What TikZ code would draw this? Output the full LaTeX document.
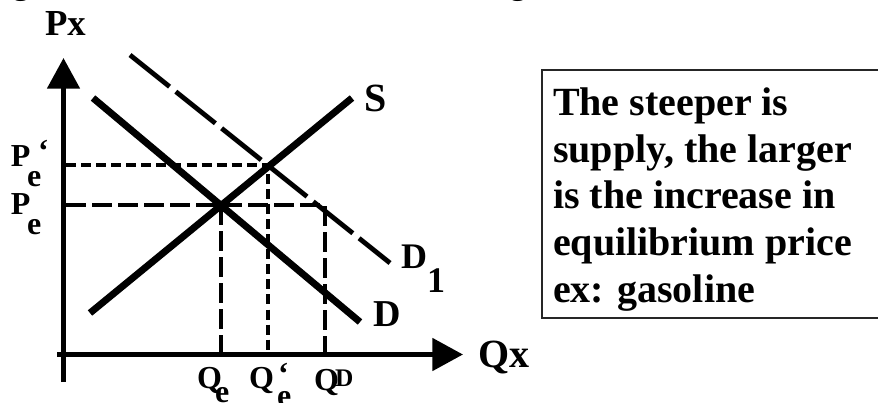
\documentclass[tikz,border=0pt]{standalone}
\usepackage{fontspec}
\setmainfont{Liberation Serif}
\usetikzlibrary{arrows.meta}
\newcommand\myfs[1]{\fontsize{#1}{#1}\selectfont\bfseries}
\begin{document}
\begin{tikzpicture}[x=0.75pt,y=-0.75pt,
  lbl/.style={anchor=base west,inner sep=0pt,outer sep=0pt},
  axisline/.style={line width=3.75pt,-{Triangle[length=23pt,width=24pt]}},
  curveline/.style={line width=5.2pt},
  shiftline/.style={line width=3.6pt,dash pattern=on 38pt off 6pt},
  longdash/.style={line width=3pt,dash pattern=on 15pt off 4.5pt},
  shortdash/.style={line width=2.4pt,dash pattern=on 7.5pt off 3.8pt},
  boxline/.style={line width=1.1pt,draw=black!85}]
\useasboundingbox (0,0) rectangle (878,403);
\begin{scope}
\clip (0,0) rectangle (878,403);
% cut-off glyphs at the top
\node[lbl] (g1) at (13,-5) {\myfs{24}g};
\node[lbl] (g2) at (510,-5) {\myfs{24}g};
% text box
\coordinate (b1) at (542,318);
\coordinate (b2) at (542,70);
\coordinate (b3) at (890,70);
\coordinate (b4) at (890,318);
\draw[boxline] (b1) -- (b2) -- (b3) -- (b4) -- cycle;
\end{scope}
% coordinates
\coordinate (O) at (63.5,354.5);
\coordinate (ytop) at (63.5,58);
\coordinate (ybot) at (63.5,382);
\coordinate (xleft) at (57,354.5);
\coordinate (xright) at (463,354.5);
\coordinate (S0) at (90,313);
\coordinate (S1) at (352,98);
\coordinate (D0) at (93,98);
\coordinate (D1a) at (360,322);
\coordinate (N0) at (130,55);
\coordinate (N1) at (390,263);
\coordinate (E) at (221,205);
\coordinate (E1) at (268,165);
\coordinate (PeA) at (66,205);
\coordinate (PeB) at (325,205);
\coordinate (QD) at (325,352);
\coordinate (Qe) at (221,352);
\coordinate (Pe1A) at (66,165);
\coordinate (Qe1) at (268,352);
% guide lines
\draw[longdash] (PeA) -- (PeB) -- (QD);
\draw[longdash,line width=2.6pt] (E) -- (Qe);
\draw[shortdash] (Pe1A) -- (E1) -- (Qe1);
% curves
\draw[shiftline] (N0) -- (N1);
\draw[curveline] (S0) -- (S1);
\draw[curveline] (D0) -- (D1a);
% axes
\draw[line width=3.75pt] (ybot) -- (O);
\draw[axisline] (O) -- (ytop);
\draw[axisline] (xleft) -- (xright);
% axis labels
\node[lbl] (px) at (45,36) {\myfs{27.5}Px};
\node[lbl] (qx) at (478,367) {\myfs{30}Qx};
\node[lbl] (sl) at (364,112) {\myfs{30}S};
\node[lbl] (d1l) at (401,268) {\myfs{27}D};
\node[lbl] (d1s) at (427,292) {\myfs{27}1};
\node[lbl] (dl) at (373,326) {\myfs{28.5}D};
% price labels
\node[lbl] (pe1P) at (11,166) {\myfs{24}P};
\node[lbl] (pe1q) at (38,161) {\myfs{24}‘};
\node[lbl] (pe1e) at (27,186) {\myfs{24}e};
\node[lbl] (peP) at (11,214) {\myfs{24}P};
\node[lbl] (pee) at (27,234) {\myfs{24}e};
% quantity labels
\node[lbl] (qeQ) at (197,388) {\myfs{24}Q};
\node[lbl] (qee) at (215,402) {\myfs{24}e};
\node[lbl] (qe1Q) at (249,388) {\myfs{24}Q};
\node[lbl] (qe1q) at (278,384) {\myfs{24}‘};
\node[lbl] (qe1e) at (277,406) {\myfs{24}e};
\node[lbl] (qdQ) at (314,390) {\myfs{24}Q};
\node[lbl] (qdD) at (335,386) {\myfs{19}D};
% box text
\node[lbl] (t1) at (553,115) {\myfs{30}The steeper is};
\node[lbl] (t2) at (553,162) {\myfs{30}supply, the larger};
\node[lbl] (t3) at (553,208.5) {\myfs{30}is the increase in};
\node[lbl] (t4) at (553,255) {\myfs{30}equilibrium price};
\node[lbl] (t5) at (553,302) {\myfs{30}ex: gasoline};
\end{tikzpicture}
\end{document}
